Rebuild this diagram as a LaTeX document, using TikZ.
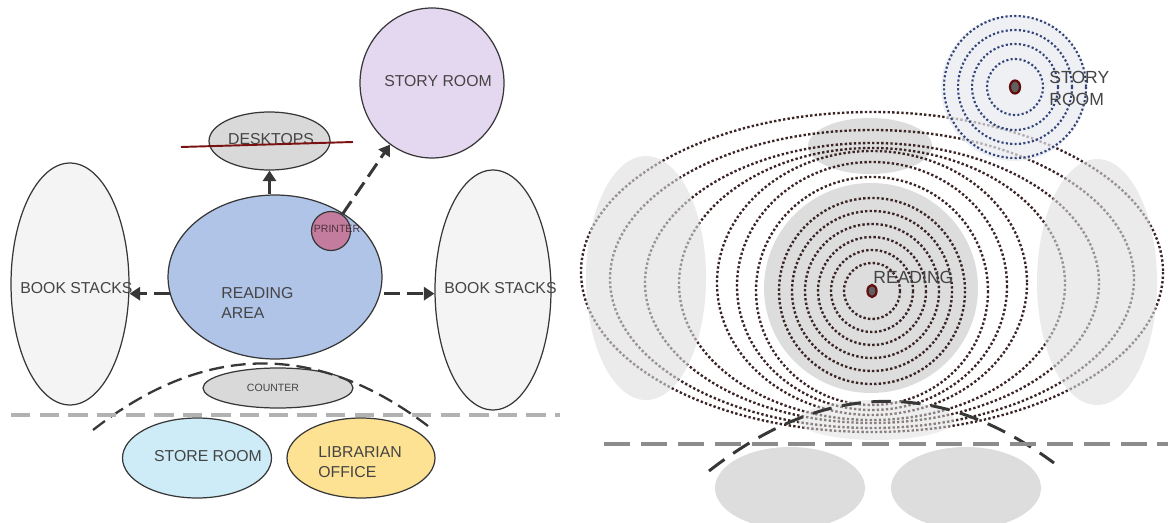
\documentclass[tikz,border=0pt]{standalone}
\usepackage{fontspec}
\setmainfont{Liberation Sans}
\usetikzlibrary{shapes.geometric,arrows.meta}

\definecolor{readblue}{RGB}{176,196,232}
\definecolor{storylilac}{RGB}{228,216,240}
\definecolor{printrose}{RGB}{196,124,158}
\definecolor{deskgray}{RGB}{217,217,217}
\definecolor{stackgray}{RGB}{244,244,244}
\definecolor{storecyan}{RGB}{206,236,248}
\definecolor{officegold}{RGB}{253,226,147}
\definecolor{inkgray}{RGB}{55,55,55}
\definecolor{txtgray}{RGB}{68,68,68}
\definecolor{strikered}{RGB}{122,18,18}
\definecolor{dotbrown}{RGB}{58,36,36}
\definecolor{dotnavy}{RGB}{52,68,120}
\definecolor{zonegray}{RGB}{221,221,221}
\definecolor{storyveil}{RGB}{232,234,240}

\tikzset{
  room/.style={ellipse, draw=inkgray, line width=0.7pt, inner sep=0pt},
  lbl/.style={text=txtgray, inner sep=0pt, font=\fontsize{9}{11.4}\selectfont},
  flow/.style={draw=inkgray, line width=1.7pt, -{Triangle[length=6pt,width=7.5pt]}},
  dashflow/.style={flow, dash pattern=on 9pt off 4pt},
  floorline/.style={line width=2pt, dash pattern=on 11pt off 5.3pt},
  reach/.style={draw=inkgray, line width=1.3pt, dash pattern=on 8.5pt off 4pt},
  ring/.style={draw=dotbrown, line width=1.35pt, dash pattern=on 1.35pt off 1.25pt},
  spot/.style={fill=gray!75!black, draw=strikered!80!black, line width=1.3pt},
}

\begin{document}
\begin{tikzpicture}[x=0.02cm,y=-0.02cm]
\useasboundingbox (0,0) rectangle (1168,523);

% ---- bubble diagram
\node[room, fill=stackgray, minimum width=2.36cm, minimum height=4.84cm] (stackL) at (70,284) {};
\node[room, fill=stackgray, minimum width=2.32cm, minimum height=4.8cm] (stackR) at (493,290) {};
\node[room, fill=storylilac, minimum width=2.88cm, minimum height=3cm] (story) at (432,83) {};
\node[room, fill=deskgray, minimum width=2.42cm, minimum height=1.16cm] (desk) at (269.5,141) {};
\node[room, fill=readblue, minimum width=4.28cm, minimum height=3.28cm] (reading) at (275,277) {};
\node[room, circle, fill=printrose, minimum size=0.78cm] (printer) at (331,231) {};
\node[room, fill=deskgray, minimum width=3cm, minimum height=0.8cm] (counter) at (278,388) {};
\node[room, fill=storecyan, minimum width=2.98cm, minimum height=1.6cm] (store) at (197,458) {};
\node[room, fill=officegold, minimum width=2.96cm, minimum height=1.6cm] (office) at (361,458) {};

\node[lbl] (storytxt) at (438,81) {STORY ROOM};
\node[lbl] (desktxt) at (271,139) {DESKTOPS};
\node[lbl, anchor=west, align=left] (readtxt) at (221,303) {READING\\AREA};
\node[lbl, anchor=west] (stackLtxt) at (20,288) {BOOK STACKS};
\node[lbl, anchor=west] (stackRtxt) at (444,288) {BOOK STACKS};
\node[lbl, font=\fontsize{6}{7}\selectfont] (countertxt) at (273,388) {COUNTER};
\node[lbl, text=printrose!40!black, font=\fontsize{6}{7}\selectfont] (printtxt) at (337,229) {PRINTER};
\node[lbl] (storetxt) at (208,456) {STORE ROOM};
\node[lbl, anchor=west, align=left] (officetxt) at (318,462) {LIBRARIAN\\OFFICE};

% desktops crossed out
\draw[strikered, line width=1.1pt] (181,147) -- (353,142);

\draw[flow] (reading.north -| desk.south) -- (desk.south);
\draw[dashflow] (printer) -- (story);
\draw[dashflow] (reading.189) -- (reading.189 -| stackL.east);
\draw[dashflow, shorten <=2pt] (reading.351) -- (reading.351 -| stackR.west);

\draw[reach] (93,430) .. controls (204,343) and (316,341) .. (428,426);
\draw[floorline, gray!60] (11,415) -- (560,415);

% ---- field diagram
\fill[zonegray] (870,146) ellipse [x radius=62, y radius=28];
\fill[zonegray] (871,288) ellipse [x radius=107, y radius=105];

\foreach \r in {28,41,54,67,80,93}
  \draw[ring] (872,291) circle [radius=\r];
\foreach \rx/\ry/\cy in {116/114/291, 135/124/286, 155/132/283, 193/136/284,
                         227/140/283, 262/149/279, 291/160/272}
  \draw[ring] (872,\cy) ellipse [x radius=\rx, y radius=\ry];

% stacks and counter sit over the rings
\fill[zonegray, fill opacity=0.6] (646,278) ellipse [x radius=60, y radius=122];
\fill[zonegray, fill opacity=0.6] (1097,282) ellipse [x radius=60, y radius=123];
\fill[zonegray, fill opacity=0.5] (876,420) ellipse [x radius=78, y radius=20];

\fill[storyveil, fill opacity=0.7] (1014,88) circle [radius=73];
\foreach \r in {28,43,57,71}
  \draw[ring, draw=dotnavy, line width=1.2pt, dash pattern=on 1.2pt off 1.3pt] (1015,87) circle [radius=\r];

\draw[spot] (872,291) ellipse [x radius=4.5, y radius=6];
\draw[spot] (1015,87) ellipse [x radius=5, y radius=6.5];

\node[lbl, anchor=west, font=\fontsize{10}{12.5}\selectfont] (readspot) at (873,277) {READING};
\node[lbl, anchor=west, align=left, font=\fontsize{10}{12.5}\selectfont] (storyspot) at (1049,88) {STORY\\ROOM};

\draw[reach, line width=1.7pt, dash pattern=on 11pt off 6pt] (709,471) .. controls (824,381) and (939,378) .. (1054,463);
\draw[floorline, gray!90, line width=2.3pt, dash pattern=on 15pt off 6pt] (604,444) -- (1168,444);

\fill[zonegray] (790,488) ellipse [x radius=75, y radius=41];
\fill[zonegray] (966,488) ellipse [x radius=75, y radius=41];

\end{tikzpicture}
\end{document}
